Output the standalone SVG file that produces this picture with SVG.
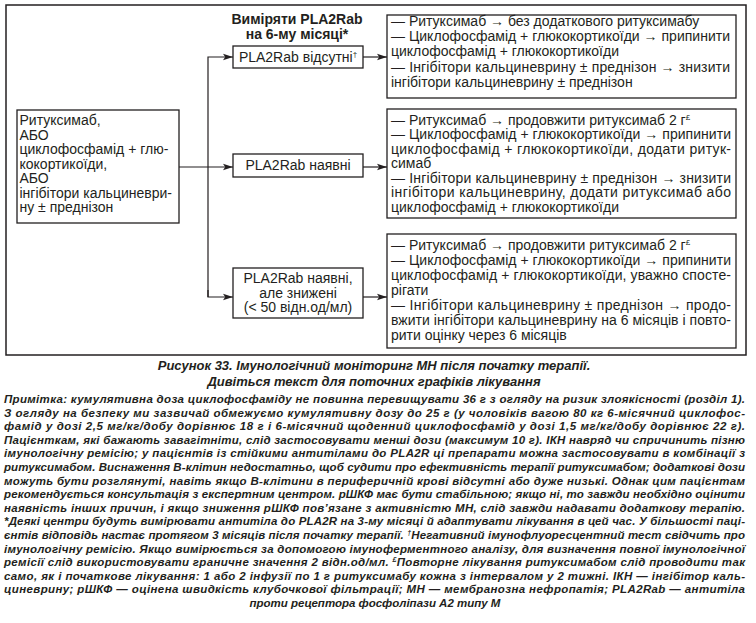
<svg xmlns="http://www.w3.org/2000/svg" width="756" height="623" viewBox="0 0 756 623">
<defs>
<marker id="ah" viewBox="0 0 10 8" refX="10" refY="4" markerWidth="10" markerHeight="8" markerUnits="userSpaceOnUse" orient="auto">
<path d="M0,0.8 L10,4 L0,7.2 L2.2,4 Z" fill="#231f20"/>
</marker>
</defs>
<style>
.bx{fill:#fff;stroke:#231f20;stroke-width:1.3}
.fr{fill:none;stroke:#231f20;stroke-width:1.5}
.t{font-family:"Liberation Sans",Arial,sans-serif;font-size:14px;fill:#231f20}
.c{text-anchor:middle}
.b{font-weight:bold}
.cap{font-family:"Liberation Sans",Arial,sans-serif;font-size:13px;font-weight:bold;font-style:italic;fill:#231f20;text-anchor:middle}
.n{font-family:"Liberation Sans",Arial,sans-serif;font-size:11.5px;font-weight:bold;font-style:italic;fill:#231f20}
.cn{fill:none;stroke:#231f20;stroke-width:1.2}
</style>
<rect class="fr" x="6" y="5" width="740" height="350"/>
<text class="t b c" x="297" y="24">Виміряти PLA2Rab</text>
<text class="t b c" x="297" y="39">на 6-му місяці*</text>
<g id="start">
<rect class="bx" x="17" y="110" width="162" height="113"/>
<text class="t" x="19.5" y="125">Ритуксимаб,</text>
<text class="t" x="19.5" y="139.5">АБО</text>
<text class="t" x="19.5" y="154">циклофосфамід + глю-</text>
<text class="t" x="19.5" y="168.5">кокортикоїди,</text>
<text class="t" x="19.5" y="183">АБО</text>
<text class="t" x="19.5" y="197.5">інгібітори кальциневри-</text>
<text class="t" x="19.5" y="212">ну ± преднізон</text>
</g>
<g id="absent">
<rect class="bx" x="233" y="46" width="130" height="22"/>
<text class="t c" x="298" y="61.5">PLA2Rab відсутні<tspan font-size="8" dy="-5">†</tspan></text>
</g>
<g id="present">
<rect class="bx" x="233" y="154" width="130" height="23"/>
<text class="t c" x="298" y="170">PLA2Rab наявні</text>
</g>
<g id="reduced">
<rect class="bx" x="233" y="268" width="130" height="50"/>
<text class="t c" x="298" y="283">PLA2Rab наявні,</text>
<text class="t c" x="298" y="297.5">але знижені</text>
<text class="t c" x="298" y="312">(&lt; 50 відн.од/мл)</text>
</g>
<g id="action-absent">
<rect class="bx" x="387" y="15" width="349" height="83"/>
<text class="t" x="391" y="26">— Ритуксимаб → без додаткового ритуксимабу</text>
<text class="t" x="391" y="41.2" textLength="339" lengthAdjust="spacing">— Циклофосфамід + глюкокортикоїди → припинити</text>
<text class="t" x="391" y="56.4">циклофосфамід + глюкокортикоїди</text>
<text class="t" x="391" y="71.6" textLength="339" lengthAdjust="spacing">— Інгібітори кальциневрину ± преднізон → знизити</text>
<text class="t" x="391" y="86.8">інгібітори кальциневрину ± преднізон</text>
</g>
<g id="action-present">
<rect class="bx" x="387" y="109" width="349" height="109"/>
<text class="t" x="391" y="124.5">— Ритуксимаб → продовжити ритуксимаб 2 г<tspan font-size="8" dy="-5">£</tspan></text>
<text class="t" x="391" y="139" textLength="340" lengthAdjust="spacing">— Циклофосфамід + глюкокортикоїди → припинити</text>
<text class="t" x="391" y="153.6" textLength="340" lengthAdjust="spacing">циклофосфамід + глюкокортикоїди, додати ритук-</text>
<text class="t" x="391" y="168.2">симаб</text>
<text class="t" x="391" y="182.8" textLength="340" lengthAdjust="spacing">— Інгібітори кальциневрину ± преднізон → знизити</text>
<text class="t" x="391" y="197.4" textLength="340" lengthAdjust="spacing">інгібітори кальциневрину, додати ритуксимаб або</text>
<text class="t" x="391" y="212">циклофосфамід + глюкокортикоїди</text>
</g>
<g id="action-reduced">
<rect class="bx" x="387" y="234" width="349" height="114"/>
<text class="t" x="391" y="250">— Ритуксимаб → продовжити ритуксимаб 2 г<tspan font-size="8" dy="-5">£</tspan></text>
<text class="t" x="391" y="265" textLength="340" lengthAdjust="spacing">— Циклофосфамід + глюкокортикоїди → припинити</text>
<text class="t" x="391" y="280" textLength="340" lengthAdjust="spacing">циклофосфамід + глюкокортикоїди, уважно спосте-</text>
<text class="t" x="391" y="295">рігати</text>
<text class="t" x="391" y="310" textLength="340" lengthAdjust="spacing">— Інгібітори кальциневрину ± преднізон → продо-</text>
<text class="t" x="391" y="325" textLength="340" lengthAdjust="spacing">вжити інгібітори кальциневрину на 6 місяців і повто-</text>
<text class="t" x="391" y="340">рити оцінку через 6 місяців</text>
</g>
<g id="connectors">
<path class="cn" d="M179,167 H233" marker-end="url(#ah)"/>
<path class="cn" d="M208,297 V57 H233" marker-end="url(#ah)"/>
<path class="cn" d="M208,290 V297 H233" marker-end="url(#ah)"/>
<path class="cn" d="M363,57 H387" marker-end="url(#ah)"/>
<path class="cn" d="M363,167 H387" marker-end="url(#ah)"/>
<path class="cn" d="M363,297 H387" marker-end="url(#ah)"/>
</g>
<text class="cap" x="374" y="370">Рисунок 33. Імунологічний моніторинг МН після початку терапії.</text>
<text class="cap" x="374" y="386">Дивіться текст для поточних графіків лікування</text>
<g id="note">
<text class="n" x="4" y="403" textLength="741" lengthAdjust="spacing">Примітка: кумулятивна доза циклофосфаміду не повинна перевищувати 36 г з огляду на ризик злоякісності (розділ 1).</text>
<text class="n" x="4" y="416.6" textLength="741" lengthAdjust="spacing">З огляду на безпеку ми зазвичай обмежуємо кумулятивну дозу до 25 г (у чоловіків вагою 80 кг 6-місячний циклофос-</text>
<text class="n" x="4" y="430.2" textLength="741" lengthAdjust="spacing">фамід у дозі 2,5 мг/кг/добу дорівнює 18 г і 6-місячний щоденний циклофосфамід у дозі 1,5 мг/кг/добу дорівнює 22 г).</text>
<text class="n" x="4" y="443.8" textLength="741" lengthAdjust="spacing">Пацієнткам, які бажають завагітніти, слід застосовувати менші дози (максимум 10 г). ІКН навряд чи спричинить пізню</text>
<text class="n" x="4" y="457.4" textLength="741" lengthAdjust="spacing">імунологічну ремісію; у пацієнтів із стійкими антитілами до PLA2R ці препарати можна застосовувати в комбінації з</text>
<text class="n" x="4" y="471" textLength="741" lengthAdjust="spacing">ритуксимабом. Виснаження В-клітин недостатньо, щоб судити про ефективність терапії ритуксимабом; додаткові дози</text>
<text class="n" x="4" y="484.6" textLength="741" lengthAdjust="spacing">можуть бути розглянуті, навіть якщо В-клітини в периферичній крові відсутні або дуже низькі. Однак цим пацієнтам</text>
<text class="n" x="4" y="498.2" textLength="741" lengthAdjust="spacing">рекомендується консультація з експертним центром. рШКФ має бути стабільною; якщо ні, то завжди необхідно оцінити</text>
<text class="n" x="4" y="511.8" textLength="741" lengthAdjust="spacing">наявність інших причин, і якщо зниження рШКФ пов’язане з активністю МН, слід завжди надавати додаткову терапію.</text>
<text class="n" x="4" y="525.4" textLength="741" lengthAdjust="spacing">*Деякі центри будуть вимірювати антитіла до PLA2R на 3-му місяці й адаптувати лікування в цей час. У більшості паці-</text>
<text class="n" x="4" y="539" textLength="741" lengthAdjust="spacing">єнтів відповідь настає протягом 3 місяців після початку терапії. <tspan font-size="7" dy="-4">†</tspan><tspan dy="4">Негативний імунофлуоресцентний тест свідчить про</tspan></text>
<text class="n" x="4" y="552.6" textLength="741" lengthAdjust="spacing">імунологічну ремісію. Якщо вимірюється за допомогою імуноферментного аналізу, для визначення повної імунологічної</text>
<text class="n" x="4" y="566.2" textLength="741" lengthAdjust="spacing">ремісії слід використовувати граничне значення 2 відн.од/мл. <tspan font-size="7" dy="-4">£</tspan><tspan dy="4">Повторне лікування ритуксимабом слід проводити так</tspan></text>
<text class="n" x="4" y="579.8" textLength="741" lengthAdjust="spacing">само, як і початкове лікування: 1 або 2 інфузії по 1 г ритуксимабу кожна з інтервалом у 2 тижні. ІКН — інгібітор каль-</text>
<text class="n" x="4" y="593.4" textLength="741" lengthAdjust="spacing">циневрину; рШКФ — оцінена швидкість клубочкової фільтрації; МН — мембранозна нефропатія; PLA2Rab — антитіла</text>
<text class="n" x="375" y="607" text-anchor="middle">проти рецептора фосфоліпази А2 типу М</text>
</g>
</svg>
